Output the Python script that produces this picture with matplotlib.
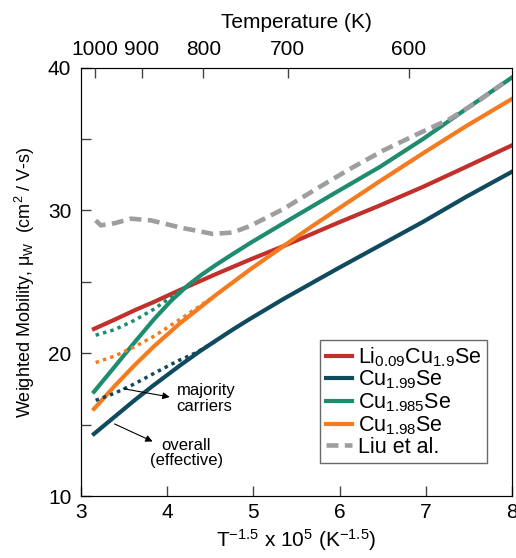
import numpy as np
import matplotlib
matplotlib.use("Agg")
import matplotlib.pyplot as plt

plt.rcParams['font.family'] = ['Liberation Sans', 'DejaVu Sans']
plt.rcParams['mathtext.fontset'] = 'custom'
plt.rcParams['mathtext.rm'] = 'Liberation Sans'
plt.rcParams['mathtext.it'] = 'Liberation Sans:italic'

# datos (x = T^-1.5 x 1e5)
x_li = [3.15, 3.39, 3.62, 3.85, 4.12, 4.57, 4.96, 5.35, 5.66, 5.97, 6.47, 6.97, 7.47, 8.0]
y_li = [21.7, 22.35, 23.0, 23.6, 24.35, 25.55, 26.55, 27.5, 28.3, 29.1, 30.35, 31.65, 33.05, 34.55]

x_99 = [3.15, 3.39, 3.62, 3.83, 4.15, 4.37, 4.57, 4.76, 4.96, 5.35, 5.66, 5.97, 6.47, 6.97, 7.47, 8.0]
y_99 = [14.35, 15.55, 16.7, 17.7, 19.15, 20.1, 20.9, 21.65, 22.4, 23.8, 24.85, 25.9, 27.55, 29.2, 30.95, 32.7]
x_99d = [3.17, 3.39, 3.62, 3.85, 4.12, 4.34, 4.55]
y_99d = [16.7, 17.2, 17.85, 18.6, 19.45, 20.05, 20.8]

x_985 = [3.15, 3.39, 3.62, 3.85, 4.05, 4.25, 4.4, 4.57, 4.75, 4.96, 5.35, 5.66, 5.97, 6.47, 6.97, 7.47, 8.0]
y_985 = [17.3, 19.05, 20.75, 22.4, 23.7, 24.8, 25.5, 26.2, 26.9, 27.7, 29.1, 30.2, 31.3, 33.05, 35.0, 37.1, 39.3]
x_985d = [3.17, 3.39, 3.62, 3.85, 4.05, 4.25]
y_985d = [21.26, 21.65, 22.3, 23.1, 23.95, 24.8]

x_98 = [3.15, 3.39, 3.62, 3.85, 4.15, 4.57, 4.96, 5.35, 5.66, 5.97, 6.47, 6.97, 7.47, 8.0]
y_98 = [16.1, 17.7, 19.15, 20.5, 22.1, 24.1, 25.85, 27.5, 28.8, 30.05, 32.05, 34.0, 35.9, 37.8]
x_98d = [3.17, 3.39, 3.62, 3.85, 4.17, 4.5]
y_98d = [19.35, 19.8, 20.45, 21.2, 22.45, 23.8]

x_liu = [3.17, 3.23, 3.39, 3.58, 3.81, 4.19, 4.53, 4.76, 4.96, 5.35, 5.73,
         6.12, 6.51, 6.89, 7.28, 7.6, 7.9]
y_liu = [29.3, 28.95, 29.1, 29.42, 29.3, 28.75, 28.35, 28.45, 28.9, 30.1, 31.5,
         32.9, 34.2, 35.3, 36.4, 37.6, 38.9]

temps = [1000, 900, 800, 700, 600]

c_red = '#c1302b'
c_navy = '#0f4a5f'
c_green = '#1e8c6f'
c_orange = '#f47b20'
c_grey = '#9e9ea1'
c_axis = '#444444'

fig = plt.figure(figsize=(5.16, 5.58), dpi=100)
ax = fig.add_axes([0.157, 0.111, 0.835, 0.768])

ax.plot(x_li, y_li, color=c_red, lw=3, label='Li$_{0.09}$Cu$_{1.9}$Se')
ax.plot(x_99, y_99, color=c_navy, lw=3, label='Cu$_{1.99}$Se')
ax.plot(x_985, y_985, color=c_green, lw=3, label='Cu$_{1.985}$Se')
ax.plot(x_98, y_98, color=c_orange, lw=3, label='Cu$_{1.98}$Se')
ax.plot(x_liu, y_liu, color=c_grey, lw=3.3, ls=(0, (2.6, 1.4)), label='Liu et al.')

ax.plot(x_99d, y_99d, color=c_navy, lw=2.5, ls=(0, (1, 1.2)))
ax.plot(x_985d, y_985d, color=c_green, lw=2.5, ls=(0, (1, 1.2)))
ax.plot(x_98d, y_98d, color=c_orange, lw=2.5, ls=(0, (1, 1.2)))

ax.set_xlim(3, 8)
ax.set_ylim(10, 40)
ax.set_xticks([3, 4, 5, 6, 7, 8])
ax.set_yticks([10, 15, 20, 25, 30, 35, 40])
ax.set_yticklabels(['10', '', '20', '', '30', '', '40'])
ax.tick_params(direction='in', length=7, width=1, labelsize=15, color=c_axis)
ax.tick_params(axis='y', pad=7)
ax.tick_params(axis='x', pad=5)
for s in ax.spines.values():
    s.set_color(c_axis)

ax.set_xlabel('T$^{-1.5}$ x 10$^{5}$ (K$^{-1.5}$)', fontsize=15, labelpad=4)
ax.set_ylabel('Weighted Mobility, μ$_{\\rm W}$  (cm$^2$ / V-s)', fontsize=13, labelpad=8)

# eje superior de temperatura
top = ax.twiny()
top.set_xlim(3, 8)
top.set_xticks([t ** -1.5 * 1e5 for t in temps])
top.set_xticklabels([str(t) for t in temps])
top.tick_params(direction='in', length=7, width=1, labelsize=15, pad=6, color=c_axis)
top.set_xlabel('Temperature (K)', fontsize=15, labelpad=9)

ax.annotate('', xy=(4.06, 16.9), xytext=(3.46, 17.55),
            arrowprops=dict(arrowstyle='-|>', color='black', lw=0.8))
ax.text(4.11, 16.85, 'majority\ncarriers', fontsize=12, ha='left', va='center', linespacing=1.05)
ax.annotate('', xy=(3.86, 13.74), xytext=(3.36, 15.13),
            arrowprops=dict(arrowstyle='-|>', color='black', lw=0.8))
ax.text(4.22, 13.02, 'overall\n(effective)', fontsize=12, ha='center', va='center', linespacing=1.05)

leg = ax.legend(loc='lower right', bbox_to_anchor=(0.942, 0.077), fontsize=15.5,
                frameon=True, fancybox=False, edgecolor=c_axis,
                handlelength=1.2, handletextpad=0.3, borderpad=0.25,
                labelspacing=0.0, borderaxespad=0)
leg.get_frame().set_linewidth(1)

fig.savefig('out.png', dpi=100)
